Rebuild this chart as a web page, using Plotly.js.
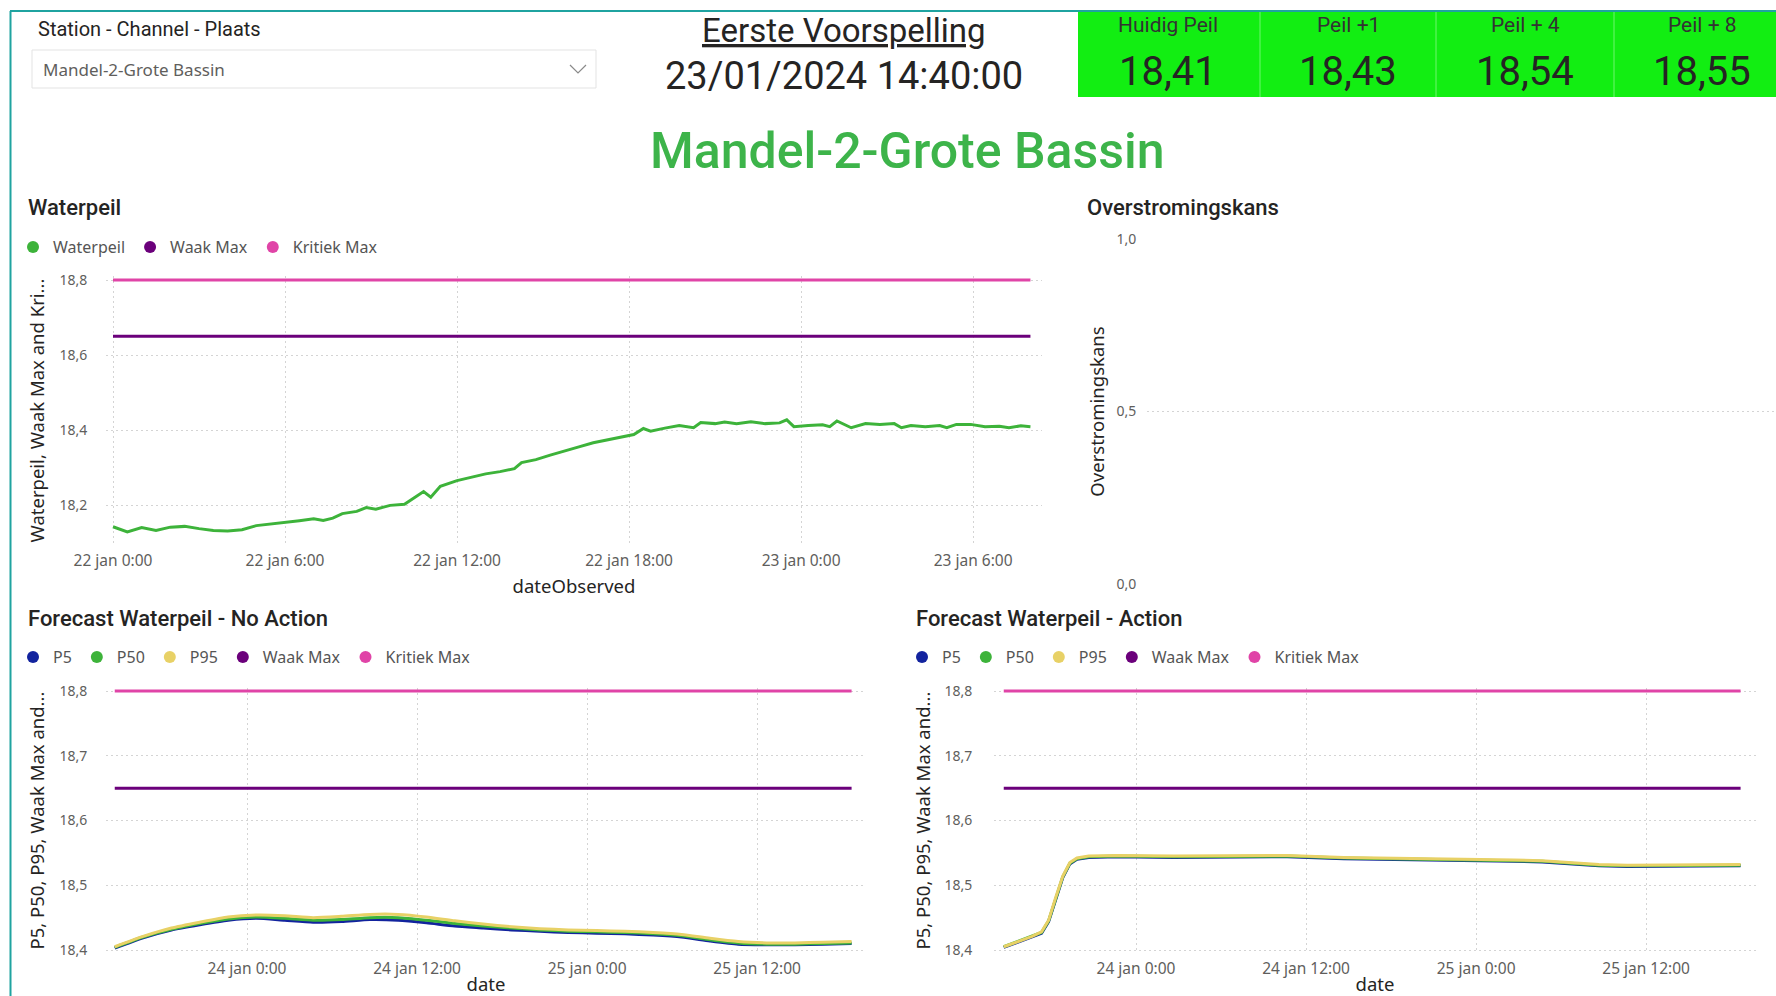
<!DOCTYPE html>
<html><head><meta charset="utf-8">
<script src="https://cdn.plot.ly/plotly-3.0.1.min.js"></script>
<style>html,body{margin:0;padding:0;background:#fff;overflow:hidden}#chart{width:1776px;height:996px}</style>
</head><body><div id="chart"></div>
<script>
// ---------------- DATA ----------------
const stationName = 'Mandel-2-Grote Bassin';
const forecastTime = '23/01/2024 14:40:00';
const kpiLabels = ['Huidig Peil', 'Peil +1', 'Peil + 4', 'Peil + 8'];
const kpiValues = [18.41, 18.43, 18.54, 18.55];

const WAAK_MAX = 18.65;
const KRITIEK_MAX = 18.80;

const obsTimes = [
 '2024-01-22 00:00','2024-01-22 00:30','2024-01-22 01:00','2024-01-22 01:30','2024-01-22 02:00','2024-01-22 02:30',
 '2024-01-22 03:00','2024-01-22 03:30','2024-01-22 04:00','2024-01-22 04:30','2024-01-22 05:00','2024-01-22 05:30',
 '2024-01-22 06:00','2024-01-22 06:30','2024-01-22 07:00','2024-01-22 07:20','2024-01-22 07:40','2024-01-22 08:00',
 '2024-01-22 08:30','2024-01-22 08:50','2024-01-22 09:10','2024-01-22 09:40','2024-01-22 10:10','2024-01-22 10:30',
 '2024-01-22 10:50','2024-01-22 11:05','2024-01-22 11:25','2024-01-22 12:00','2024-01-22 12:30','2024-01-22 13:00',
 '2024-01-22 13:30','2024-01-22 14:00','2024-01-22 14:15','2024-01-22 14:45','2024-01-22 15:15','2024-01-22 15:45',
 '2024-01-22 16:15','2024-01-22 16:45','2024-01-22 17:15','2024-01-22 17:45','2024-01-22 18:10','2024-01-22 18:30',
 '2024-01-22 18:45','2024-01-22 19:15','2024-01-22 19:45','2024-01-22 20:15','2024-01-22 20:30','2024-01-22 21:00',
 '2024-01-22 21:20','2024-01-22 21:45','2024-01-22 22:15','2024-01-22 22:45','2024-01-22 23:15','2024-01-22 23:30',
 '2024-01-22 23:45','2024-01-23 00:15','2024-01-23 00:45','2024-01-23 01:00','2024-01-23 01:15','2024-01-23 01:45',
 '2024-01-23 02:15','2024-01-23 02:45','2024-01-23 03:15','2024-01-23 03:30','2024-01-23 03:50','2024-01-23 04:20',
 '2024-01-23 04:50','2024-01-23 05:05','2024-01-23 05:25','2024-01-23 05:55','2024-01-23 06:25','2024-01-23 06:55',
 '2024-01-23 07:15','2024-01-23 07:40','2024-01-23 08:00'
];
const obsLevel = [
 18.142,18.128,18.140,18.132,18.141,18.143,
 18.137,18.132,18.131,18.134,18.145,18.149,
 18.152,18.158,18.163,18.159,18.165,18.177,
 18.183,18.193,18.189,18.199,18.202,18.218,
 18.236,18.221,18.250,18.265,18.274,18.283,
 18.289,18.297,18.313,18.321,18.333,18.343,
 18.355,18.366,18.374,18.381,18.388,18.404,
 18.397,18.405,18.412,18.406,18.420,18.417,
 18.421,18.417,18.422,18.417,18.419,18.427,
 18.409,18.412,18.414,18.409,18.424,18.406,
 18.417,18.415,18.417,18.406,18.412,18.409,
 18.412,18.406,18.415,18.415,18.409,18.410,
 18.406,18.411,18.409
];
const obsTickVals = ['2024-01-22 00:00','2024-01-22 06:00','2024-01-22 12:00','2024-01-22 18:00','2024-01-23 00:00','2024-01-23 06:00'];
const obsTickText = ['22 jan 0:00','22 jan 6:00','22 jan 12:00','22 jan 18:00','23 jan 0:00','23 jan 6:00'];

const naTimes = [
 '2024-01-23 14:40','2024-01-23 16:40','2024-01-23 18:40','2024-01-23 20:40','2024-01-23 22:40',
 '2024-01-24 00:40','2024-01-24 02:40','2024-01-24 04:40','2024-01-24 06:40','2024-01-24 08:40','2024-01-24 10:40',
 '2024-01-24 12:40','2024-01-24 14:40','2024-01-24 16:40','2024-01-24 18:40','2024-01-24 20:40','2024-01-24 22:40',
 '2024-01-25 00:40','2024-01-25 02:40','2024-01-25 04:40','2024-01-25 06:40','2024-01-25 08:40','2024-01-25 10:40',
 '2024-01-25 12:40','2024-01-25 14:40','2024-01-25 16:40','2024-01-25 18:40'
];
const naP50 = [18.404,18.420,18.432,18.441,18.448,18.451,18.449,18.446,18.447,18.450,18.450,18.446,18.441,18.437,18.434,18.431,18.429,18.428,18.427,18.425,18.422,18.416,18.411,18.409,18.409,18.410,18.411];
const naP95 = [18.405,18.421,18.434,18.443,18.451,18.454,18.453,18.450,18.452,18.455,18.455,18.451,18.445,18.440,18.436,18.433,18.431,18.430,18.429,18.427,18.424,18.418,18.413,18.411,18.411,18.412,18.413];
const naP5  = [18.403,18.419,18.431,18.439,18.446,18.449,18.446,18.443,18.444,18.447,18.446,18.442,18.437,18.434,18.431,18.429,18.427,18.426,18.425,18.423,18.420,18.414,18.409,18.408,18.408,18.409,18.410];

const acTimes = [
 '2024-01-23 14:40','2024-01-23 15:40','2024-01-23 16:40','2024-01-23 17:20','2024-01-23 17:50','2024-01-23 18:20',
 '2024-01-23 18:50','2024-01-23 19:20','2024-01-23 19:50','2024-01-23 20:40','2024-01-23 22:40','2024-01-24 02:40',
 '2024-01-24 06:40','2024-01-24 10:40','2024-01-24 14:40','2024-01-24 18:40','2024-01-24 22:40','2024-01-25 02:40',
 '2024-01-25 04:40','2024-01-25 06:40','2024-01-25 08:40','2024-01-25 10:40','2024-01-25 14:40','2024-01-25 18:40'
];
const acP50 = [18.405,18.413,18.421,18.427,18.445,18.480,18.513,18.534,18.541,18.544,18.545,18.544,18.544,18.545,18.542,18.541,18.540,18.538,18.537,18.534,18.531,18.530,18.530,18.531];
const acP95 = [18.405,18.413,18.421,18.428,18.446,18.481,18.514,18.535,18.542,18.545,18.546,18.545,18.545,18.546,18.543,18.542,18.541,18.539,18.538,18.535,18.532,18.531,18.531,18.532];
const acP5  = [18.404,18.412,18.420,18.426,18.444,18.479,18.512,18.533,18.540,18.543,18.544,18.543,18.543,18.544,18.541,18.540,18.539,18.537,18.536,18.533,18.530,18.529,18.529,18.530];

const fcTickVals = ['2024-01-24 00:00','2024-01-24 12:00','2024-01-25 00:00','2024-01-25 12:00'];
const fcTickText = ['24 jan 0:00','24 jan 12:00','25 jan 0:00','25 jan 12:00'];

// ---------------- STYLE / LAYOUT HELPERS ----------------
const W = 1776, HGT = 996, HOUR = 3600e3;
const fx = p => p / W;
const fy = p => 1 - p / HGT;
const DIN = 'Roboto, "DejaVu Sans", sans-serif';
const SEG = '"Noto Sans", "Open Sans", sans-serif';
const DARK = '#252423', GRAY = '#605E5C', LEG = '#555555';
const C_P5 = '#12239E', C_P50 = '#3DB33A', C_P95 = '#E8D166', C_WAAK = '#6B007B', C_KRIT = '#E044A7', C_WATER = '#3DB33A';
const GRID = '#d4d4d4';

function toMs(s) { return Date.parse(s.replace(' ', 'T') + ':00Z'); }
function dateRange(anchor, anchorPx, pxPerHour, d0, d1) {
  const t = toMs(anchor);
  return [t + (d0 - anchorPx) / pxPerHour * HOUR, t + (d1 - anchorPx) / pxPerHour * HOUR];
}
function valRange(v, vPx, pxPerUnit, topPx, bottomPx) {
  return [v - (bottomPx - vPx) / pxPerUnit, v + (vPx - topPx) / pxPerUnit];
}
const fmt = v => v.toFixed(2).replace('.', ',');
const flat = (times, v) => times.map(() => v);

const traces = [];
function line(x, y, color, xa, ya, shape) {
  traces.push({type: 'scatter', mode: 'lines', x: x, y: y, xaxis: xa, yaxis: ya, showlegend: false,
    hoverinfo: 'skip', line: {color: color, width: 3, shape: shape || 'linear', smoothing: 0.6}});
}
function legendDot(name, color, xa, ya, lg) {
  traces.push({type: 'scatter', mode: 'markers', x: [null], y: [null], xaxis: xa, yaxis: ya, name: name,
    legend: lg, showlegend: true, marker: {color: color, size: 12, symbol: 'circle'}});
}

// Chart 1 : Waterpeil
line(obsTimes, obsLevel, C_WATER, 'x', 'y');
line([obsTimes[0], obsTimes[obsTimes.length - 1]], [WAAK_MAX, WAAK_MAX], C_WAAK, 'x', 'y');
line([obsTimes[0], obsTimes[obsTimes.length - 1]], [KRITIEK_MAX, KRITIEK_MAX], C_KRIT, 'x', 'y');
legendDot('Waterpeil', C_WATER, 'x', 'y', 'legend');
legendDot('Waak Max', C_WAAK, 'x', 'y', 'legend');
legendDot('Kritiek Max', C_KRIT, 'x', 'y', 'legend');

// Chart 2 : Overstromingskans (no data)
traces.push({type: 'scatter', mode: 'lines', x: [], y: [], xaxis: 'x2', yaxis: 'y2', showlegend: false});

// Chart 3 : No Action
line(naTimes, naP5, C_P5, 'x3', 'y3', 'spline');
line(naTimes, naP50, C_P50, 'x3', 'y3', 'spline');
line(naTimes, naP95, C_P95, 'x3', 'y3', 'spline');
line(naTimes, flat(naTimes, WAAK_MAX), C_WAAK, 'x3', 'y3');
line(naTimes, flat(naTimes, KRITIEK_MAX), C_KRIT, 'x3', 'y3');
[['P5', C_P5], ['P50', C_P50], ['P95', C_P95], ['Waak Max', C_WAAK], ['Kritiek Max', C_KRIT]]
  .forEach(([n, c]) => legendDot(n, c, 'x3', 'y3', 'legend2'));

// Chart 4 : Action
line(acTimes, acP5, C_P5, 'x4', 'y4');
line(acTimes, acP50, C_P50, 'x4', 'y4');
line(acTimes, acP95, C_P95, 'x4', 'y4');
line(acTimes, flat(acTimes, WAAK_MAX), C_WAAK, 'x4', 'y4');
line(acTimes, flat(acTimes, KRITIEK_MAX), C_KRIT, 'x4', 'y4');
[['P5', C_P5], ['P50', C_P50], ['P95', C_P95], ['Waak Max', C_WAAK], ['Kritiek Max', C_KRIT]]
  .forEach(([n, c]) => legendDot(n, c, 'x4', 'y4', 'legend3'));

const xTickFont = {family: SEG, size: 15.5, color: GRAY};
const yTickFont = {family: SEG, size: 14, color: GRAY};
const axTitleFont = {family: SEG, size: 18.5, color: DARK};
function xDate(domPx, range, tv, tt, anchor, title, standoff) {
  return {domain: [fx(domPx[0]), fx(domPx[1])], anchor: anchor, type: 'date', range: range,
    tickmode: 'array', tickvals: tv, ticktext: tt, showgrid: true, gridcolor: GRID, griddash: '2px,3px', gridwidth: 1,
    zeroline: false, showline: false, ticks: '', tickfont: xTickFont, ticklabelstandoff: 4, fixedrange: true,
    title: {text: title, font: axTitleFont, standoff: standoff}};
}
// tick marks are transparent; their length only sets the gap between labels and plot
function yVal(domPx, range, dtick, anchor, title, tickGap, titleStandoff) {
  return {domain: [fy(domPx[1]), fy(domPx[0])], anchor: anchor, range: range, dtick: dtick, tick0: 0,
    tickformat: '.1f', showgrid: true, gridcolor: GRID, griddash: '2px,3px', gridwidth: 1, zeroline: false,
    showline: false, ticks: 'outside', ticklen: tickGap, tickcolor: 'rgba(0,0,0,0)', tickfont: yTickFont, fixedrange: true,
    title: {text: title, font: axTitleFont, standoff: titleStandoff}};
}

const legendBase = {orientation: 'h', xanchor: 'left', yanchor: 'middle', font: {family: SEG, size: 16, color: LEG},
  itemwidth: 30, bgcolor: 'rgba(0,0,0,0)', borderwidth: 0, itemclick: false, itemdoubleclick: false};

const ann = [];
function txt(t, xp, yp, size, opts) {
  opts = opts || {};
  ann.push({text: t, x: fx(xp), y: fy(yp), xref: 'paper', yref: 'paper', showarrow: false,
    xanchor: opts.xanchor || 'center', yanchor: 'middle',
    font: {family: opts.family || DIN, size: size, color: opts.color || DARK, weight: opts.weight || 400}});
}
txt('Station - Channel - Plaats', 36, 29, 20, {xanchor: 'left'});
txt(stationName, 41, 70, 17, {xanchor: 'left', family: SEG, color: GRAY});
txt('<u>Eerste Voorspelling</u>', 844, 31, 33);
txt(forecastTime, 844, 76, 38);
const kpiCenters = [1168, 1348, 1525, 1702];
kpiLabels.forEach((l, i) => txt(l, kpiCenters[i], 25, 21, {color: '#333'}));
kpiValues.forEach((v, i) => txt(fmt(v), kpiCenters[i], 71, 40, {color: DARK}));
txt(stationName, 907, 151, 50, {color: '#3DB44A', weight: 500});
txt('Waterpeil', 26, 208, 22, {xanchor: 'left', weight: 500});
txt('Overstromingskans', 1085, 208, 22, {xanchor: 'left', weight: 500});
txt('Forecast Waterpeil - No Action', 26, 618, 22, {xanchor: 'left', weight: 500});
txt('Forecast Waterpeil - Action', 914, 618, 22, {xanchor: 'left', weight: 500});

const shapes = [
  {type: 'rect', xref: 'paper', yref: 'paper', x0: fx(1078), x1: fx(1776), y0: fy(12), y1: fy(97), fillcolor: '#12EE12', line: {width: 0}, layer: 'below'},
  ...[1260, 1436, 1614].map(p => ({type: 'line', xref: 'paper', yref: 'paper', x0: fx(p), x1: fx(p), y0: fy(12), y1: fy(97), line: {color: '#6ef56e', width: 1}})),
  {type: 'line', xref: 'paper', yref: 'paper', x0: fx(10), x1: fx(1776), y0: fy(11), y1: fy(11), line: {color: '#1FA3A0', width: 2}},
  {type: 'line', xref: 'paper', yref: 'paper', x0: fx(10.5), x1: fx(10.5), y0: fy(11), y1: 0, line: {color: '#1FA3A0', width: 2}},
  {type: 'rect', xref: 'paper', yref: 'paper', x0: fx(32), x1: fx(596), y0: fy(50), y1: fy(88), fillcolor: '#ffffff', line: {color: '#e3e3e3', width: 1}, layer: 'below'},
  {type: 'path', xref: 'paper', yref: 'paper',
   path: `M ${fx(570)} ${fy(65)} L ${fx(578)} ${fy(73)} L ${fx(586)} ${fy(65)}`, line: {color: '#8a8a8a', width: 1.2}}
];

const layout = {
  width: W, height: HGT, margin: {l: 0, r: 0, t: 0, b: 0}, paper_bgcolor: '#fff', plot_bgcolor: 'rgba(0,0,0,0)',
  separators: ',.', showlegend: true, hovermode: false,
  xaxis: xDate([106, 1042], dateRange('2024-01-22 00:00', 113, 28.67, 106, 1042), obsTickVals, obsTickText, 'y', 'dateObserved', 10),
  yaxis: yVal([276, 545], valRange(18.8, 280, 375, 276, 545), 0.2, 'x', 'Waterpeil, Waak Max and Kri...', 15, 9),
  xaxis2: {domain: [fx(1147), fx(1776)], anchor: 'y2', visible: false, range: [0, 1], fixedrange: true},
  yaxis2: yVal([239, 584], [0, 1], 0.5, 'x2', 'Overstromingskans', 7, 6),
  xaxis3: xDate([106, 866], dateRange('2024-01-24 00:00', 247, 14.17, 106, 866), fcTickVals, fcTickText, 'y3', 'date', 12),
  yaxis3: yVal([688, 953], valRange(18.8, 691, 647.5, 688, 953), 0.1, 'x3', 'P5, P50, P95, Waak Max and...', 15, 9),
  xaxis4: xDate([994, 1756], dateRange('2024-01-24 00:00', 1136, 14.17, 994, 1756), fcTickVals, fcTickText, 'y4', 'date', 12),
  yaxis4: yVal([688, 953], valRange(18.8, 691, 647.5, 688, 953), 0.1, 'x4', 'P5, P50, P95, Waak Max and...', 18, 8),
  legend: Object.assign({}, legendBase, {x: fx(13), y: fy(247)}),
  legend2: Object.assign({}, legendBase, {x: fx(13), y: fy(657)}),
  legend3: Object.assign({}, legendBase, {x: fx(902), y: fy(657)}),
  annotations: ann, shapes: shapes
};

Plotly.newPlot('chart', traces, layout, {displayModeBar: false, staticPlot: true});
</script></body></html>
